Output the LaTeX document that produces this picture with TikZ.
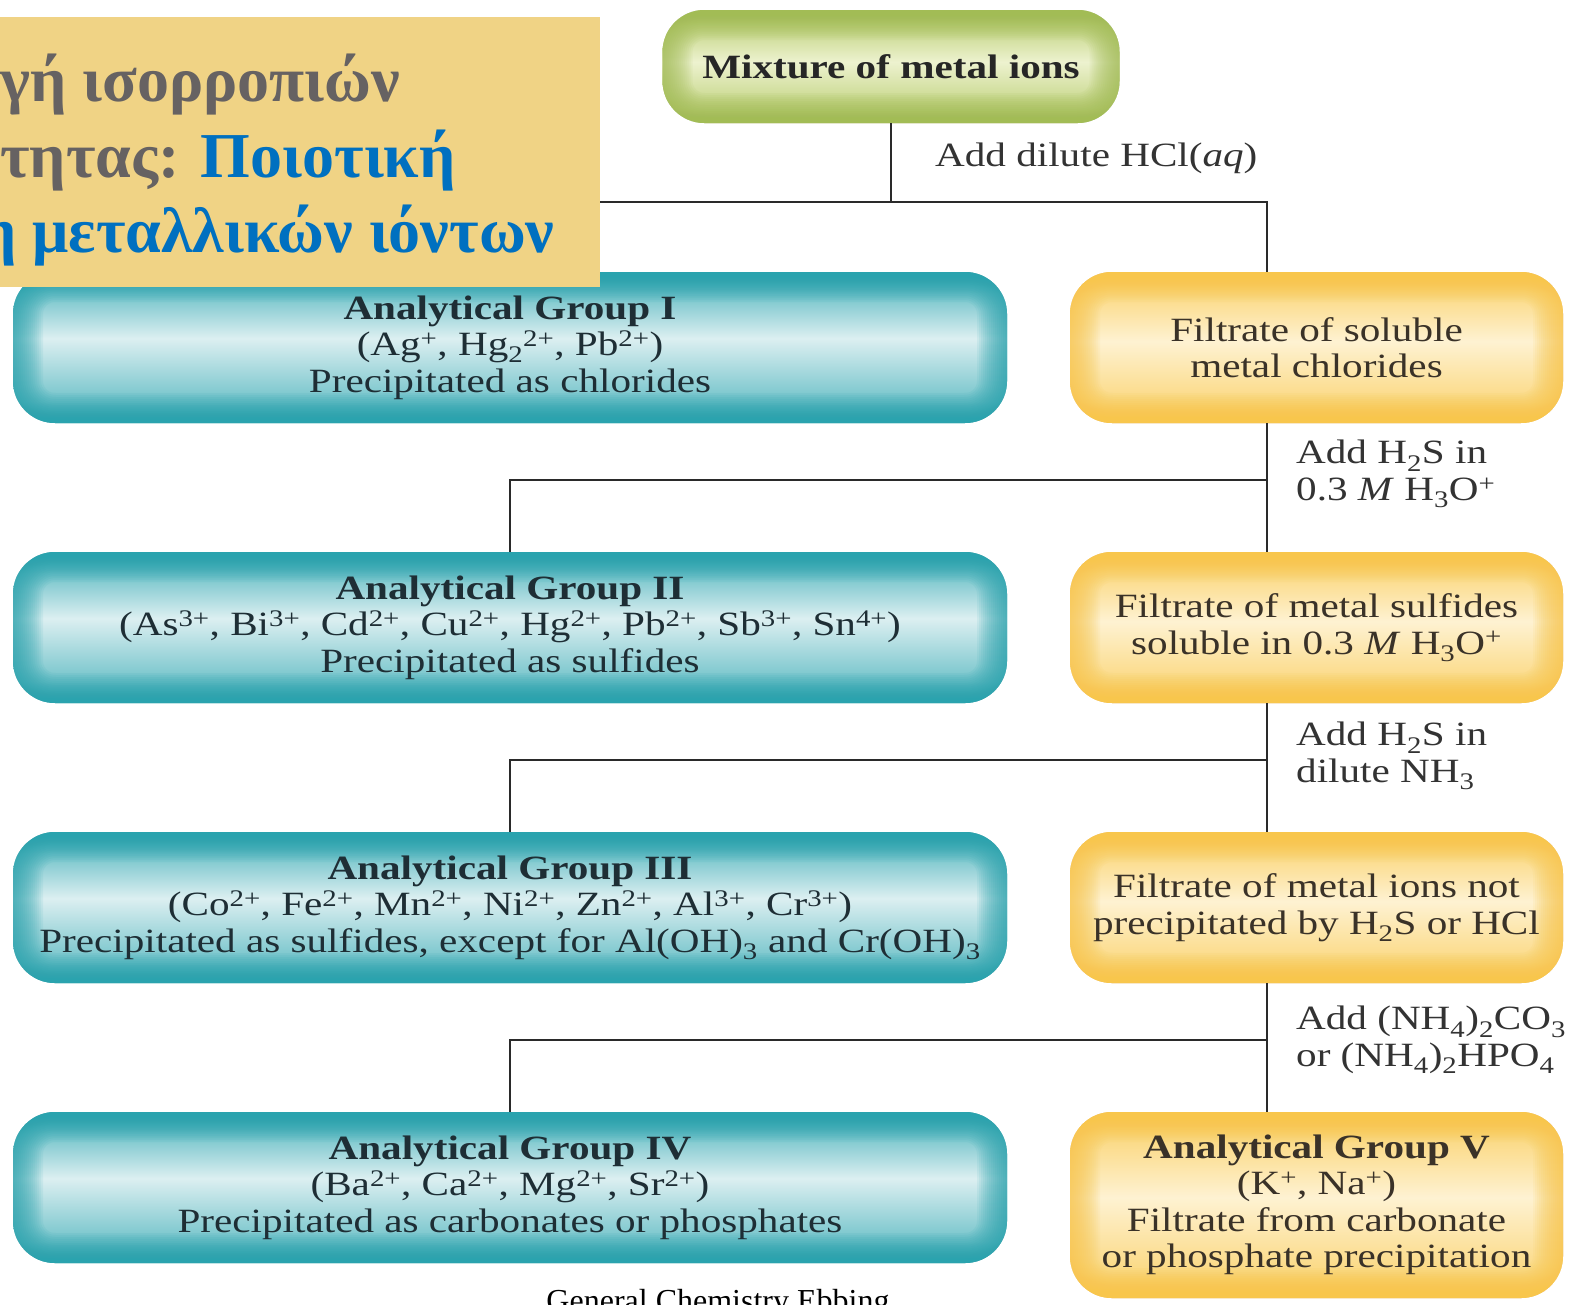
\documentclass[tikz,border=0pt]{standalone}
\usepackage{fontspec}
\setmainfont{Liberation Serif}
\newfontfamily\dg[FakeStretch=1.21]{Liberation Serif}
\newcommand\spr[1]{\textsuperscript{#1}}
\newcommand\sbs[1]{\textsubscript{#1}}
\definecolor{tealE}{HTML}{2AA3AE}
\definecolor{tealM}{HTML}{72C3CA}
\definecolor{tealL}{HTML}{DCEFF1}
\definecolor{yelE}{HTML}{F8C64C}
\definecolor{yelM}{HTML}{FBD983}
\definecolor{yelL}{HTML}{FEF2D2}
\definecolor{grnE}{HTML}{A2BC55}
\definecolor{grnM}{HTML}{C4D585}
\definecolor{grnL}{HTML}{EDF2CF}
\definecolor{titlebg}{HTML}{F0D385}
\definecolor{titlegray}{HTML}{666262}
\definecolor{titleblue}{HTML}{0070C0}
\definecolor{txtdark}{HTML}{1E2E35}
\definecolor{txtbrown}{HTML}{3A3228}
\definecolor{linec}{HTML}{2A2A2A}
\pgfdeclareverticalshading{tealv}{100bp}{color(0bp)=(tealE); color(25bp)=(tealE); color(32bp)=(tealM); color(53bp)=(tealL); color(68bp)=(tealM); color(75bp)=(tealE); color(100bp)=(tealE)}
\pgfdeclareverticalshading{yelv}{100bp}{color(0bp)=(yelE); color(25bp)=(yelE); color(32bp)=(yelM); color(52bp)=(yelL); color(68bp)=(yelM); color(75bp)=(yelE); color(100bp)=(yelE)}
\pgfdeclareverticalshading{grnv}{100bp}{color(0bp)=(grnE); color(25bp)=(grnE); color(32bp)=(grnM); color(52bp)=(grnL); color(68bp)=(grnM); color(75bp)=(grnE); color(100bp)=(grnE)}
\tikzset{
  glow/.style={path picture={
    \foreach \w in {4,8,...,60}
      \draw[#1, line width=\w, opacity=0.09, rounded corners=42]
        (path picture bounding box.south west) rectangle (path picture bounding box.north east);}},
  boxbase/.style={rectangle, rounded corners=42, inner sep=0, align=center,
    font=\dg\fontsize{34}{36.5}\selectfont},
  tealbox/.style={boxbase, shading=tealv, glow=tealE, text=txtdark,
    minimum width=994, minimum height=151},
  yelbox/.style={boxbase, shading=yelv, glow=yelE, text=txtbrown,
    minimum width=493, minimum height=151},
  grnbox/.style={boxbase, shading=grnv, glow=grnE, text=black!85,
    minimum width=457, minimum height=113},
  lbl/.style={anchor=west, inner sep=0, align=left, text=black!80,
    font=\dg\fontsize{34}{36.5}\selectfont},
  conn/.style={draw=linec, line width=2.2},
  titletxt/.style={anchor=base west, inner sep=0,
    font=\bfseries\fontsize{64}{75}\selectfont}
}
\begin{document}
\begin{tikzpicture}[x=1pt,y=-1pt]
\useasboundingbox (0,0) rectangle (1573,1304);
\fill[white] (0,0) rectangle (1573,1304);
\clip (0,0) rectangle (1573,1304);

% junction coordinates
\coordinate (trunk) at (1267,0);
\coordinate (j0) at (891,202);
\coordinate (j1) at (1267,480);
\coordinate (j2) at (1267,760);
\coordinate (j3) at (1267,1040);

% nodes
\node[grnbox] (mix) at (891,66.5) {\bfseries Mixture of metal ions};

\node[tealbox] (g1) at (510,347.5) {{\bfseries Analytical Group I}\\(Ag\spr{+}, Hg\sbs{2}\spr{2+}, Pb\spr{2+})\\Precipitated as chlorides};
\node[yelbox] (f1) at (1316.5,347.5) {Filtrate of soluble\\metal chlorides};

\node[tealbox] (g2) at (510,627.5) {{\bfseries Analytical Group II}\\(As\spr{3+}, Bi\spr{3+}, Cd\spr{2+}, Cu\spr{2+}, Hg\spr{2+}, Pb\spr{2+}, Sb\spr{3+}, Sn\spr{4+})\\Precipitated as sulfides};
\node[yelbox] (f2) at (1316.5,627.5) {Filtrate of metal sulfides\\soluble in 0.3 \textit{M} H\sbs{3}O\spr{+}};

\node[tealbox] (g3) at (510,907.5) {{\bfseries Analytical Group III}\\(Co\spr{2+}, Fe\spr{2+}, Mn\spr{2+}, Ni\spr{2+}, Zn\spr{2+}, Al\spr{3+}, Cr\spr{3+})\\Precipitated as sulfides, except for Al(OH)\sbs{3} and Cr(OH)\sbs{3}};
\node[yelbox] (f3) at (1316.5,907.5) {Filtrate of metal ions not\\precipitated by H\sbs{2}S or HCl};

\node[tealbox] (g4) at (510,1187.5) {{\bfseries Analytical Group IV}\\(Ba\spr{2+}, Ca\spr{2+}, Mg\spr{2+}, Sr\spr{2+})\\Precipitated as carbonates or phosphates};
\node[yelbox, minimum height=186] (g5) at (1316.5,1205) {{\bfseries Analytical Group V}\\(K\spr{+}, Na\spr{+})\\Filtrate from carbonate\\or phosphate precipitation};

% connectors
\draw[conn] (mix.south) -- (j0);
\draw[conn] (g1.north) |- (j0) -| (trunk |- f1.north);
\draw[conn] (trunk |- f1.south) -- (trunk |- f2.north);
\draw[conn] (g2.north) |- (j1);
\draw[conn] (trunk |- f2.south) -- (trunk |- f3.north);
\draw[conn] (g3.north) |- (j2);
\draw[conn] (trunk |- f3.south) -- (trunk |- g5.north);
\draw[conn] (g4.north) |- (j3);

% labels
\node[lbl] (l0) at (935,158) {Add dilute HCl(\textit{aq})};
\node[lbl] (l1) at (1296,474) {Add H\sbs{2}S in\\0.3 \textit{M} H\sbs{3}O\spr{+}};
\node[lbl] (l2) at (1296,756) {Add H\sbs{2}S in\\dilute NH\sbs{3}};
\node[lbl] (l3) at (1296,1040) {Add (NH\sbs{4})\sbs{2}CO\sbs{3}\\or (NH\sbs{4})\sbs{2}HPO\sbs{4}};

% title box
\node[rectangle, fill=titlebg, inner sep=0, minimum width=600, minimum height=270, anchor=north west] (titlebox) at (0,17) {};
\node[titletxt, text=titlegray] (t1) at (0,101) {γή ισορροπιών};
\node[titletxt] (t2) at (0,177) {\textcolor{titlegray}{τητας:} \textcolor{titleblue}{Ποιοτική}};
\node[titletxt, text=titleblue] (t3) at (-20,252) {η μεταλλικών ιόντων};

% caption (cut off at the bottom edge, as in the reference)
\node[anchor=base, inner sep=0, font=\fontsize{32}{36}\selectfont] (cap) at (718,1311) {General Chemistry Ebbing};
\end{tikzpicture}
\end{document}
